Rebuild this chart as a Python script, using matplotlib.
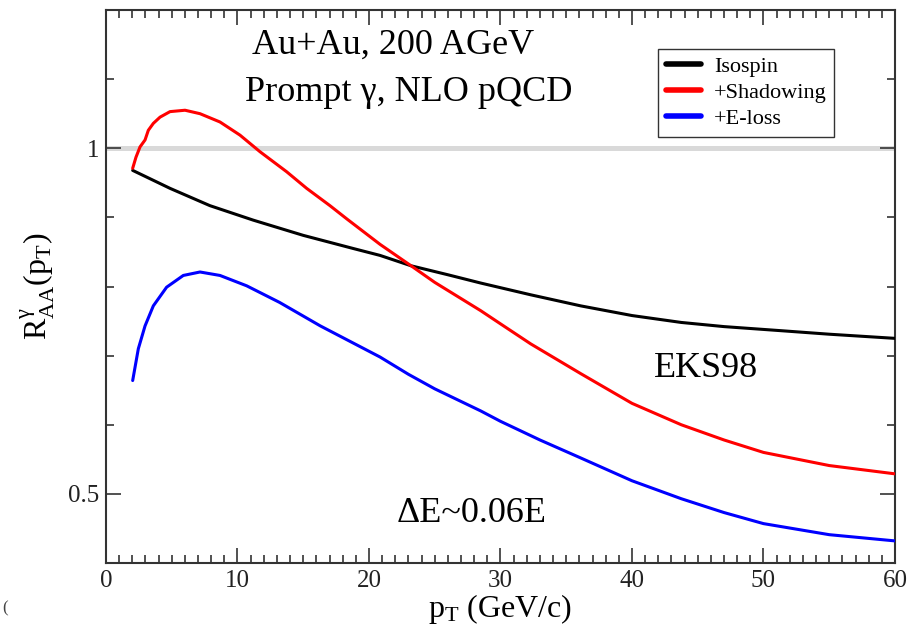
import numpy as np
import matplotlib.pyplot as plt
from matplotlib.ticker import MultipleLocator, FixedLocator

plt.rcParams['font.family'] = ['Liberation Serif', 'DejaVu Serif']
plt.rcParams['mathtext.fontset'] = 'custom'
plt.rcParams['mathtext.rm'] = 'Liberation Serif'
plt.rcParams['mathtext.it'] = 'Liberation Serif:italic'

# R_AA for prompt photons vs pT
pt_iso = [2.03, 4.87, 7.9, 11.2, 15.0, 18.8, 20.84, 23.2, 26, 28.5, 32.3,
          36.1, 40, 43.75, 47, 51.4, 55, 60]
r_iso = [0.968, 0.942, 0.917, 0.896, 0.874, 0.855, 0.845, 0.830, 0.817,
         0.805, 0.788, 0.772, 0.758, 0.748, 0.742, 0.736, 0.731, 0.725]

pt_shad = [2.03, 2.28, 2.59, 2.97, 3.22, 3.60, 4.11, 4.87, 6.01, 7.15, 8.67,
           10.19, 11.71, 13.74, 15.26, 17.03, 18.3, 20.84, 23.2, 25, 28.5,
           30, 32.3, 36.1, 40, 43.75, 47, 50, 55, 60]
r_shad = [0.971, 0.987, 1.002, 1.012, 1.026, 1.036, 1.045, 1.053, 1.055,
          1.050, 1.038, 1.019, 0.995, 0.966, 0.942, 0.917, 0.898, 0.861,
          0.830, 0.806, 0.765, 0.746, 0.717, 0.674, 0.631, 0.600, 0.578,
          0.560, 0.541, 0.529]

pt_eloss = [2.03, 2.46, 2.97, 3.6, 4.61, 5.88, 7.15, 8.67, 10.7, 13.2, 16.3,
            20.84, 23, 25, 28.5, 30, 33, 36.1, 40, 43.75, 47, 50, 55, 60]
r_eloss = [0.664, 0.710, 0.743, 0.772, 0.799, 0.816, 0.821, 0.816, 0.801,
           0.777, 0.743, 0.698, 0.673, 0.652, 0.620, 0.605, 0.578, 0.552,
           0.519, 0.493, 0.473, 0.457, 0.441, 0.432]

fig = plt.figure(figsize=(9.2, 6.29), dpi=100)
ax = fig.add_axes([0.1152, 0.1049, 0.8576, 0.8792])

ax.axhline(1.0, color='#d9d9d9', lw=3.6, zorder=1)
line_kw = dict(lw=2.2, zorder=3, solid_joinstyle='round', solid_capstyle='round')
ax.plot(pt_iso, r_iso, color='black', label='Isospin', **line_kw)
ax.plot(pt_shad, r_shad, color='red', label='+Shadowing', **line_kw)
ax.plot(pt_eloss, r_eloss, color='blue', label='+E-loss', **line_kw)

ax.set_xlim(0, 60)
ax.set_ylim(0.4, 1.2)
ax.xaxis.set_major_locator(MultipleLocator(10))
ax.xaxis.set_minor_locator(MultipleLocator(1))
ax.yaxis.set_major_locator(FixedLocator([0.5, 1.0]))
ax.yaxis.set_minor_locator(MultipleLocator(0.1))
ax.set_yticklabels(['0.5', '1'])

ax.tick_params(which='both', direction='in', top=True, right=True,
               colors='#333333', labelcolor='#222222', labelsize=18)
ax.tick_params(which='major', length=11, width=1.2, pad=5)
ax.tick_params(which='minor', length=6, width=1.2)
for s in ax.spines.values():
    s.set_color('#333333')
    s.set_linewidth(1.5)

ax.set_xlabel(r'$\mathrm{p}_{\mathrm{T}}$ (GeV/c)', fontsize=23, labelpad=0)
ax.set_ylabel(r'$\mathrm{R}^{\mathrm{γ}}_{\mathrm{AA}}(\mathrm{p}_{\mathrm{T}})$',
              fontsize=23, labelpad=8)

ax.text(21.8, 1.149, 'Au+Au, 200 AGeV', fontsize=26, ha='center', va='center')
ax.text(23.0, 1.08, 'Prompt γ, NLO pQCD', fontsize=26, ha='center', va='center')
ax.text(45.6, 0.681, 'EKS98', fontsize=26, ha='center', va='center')
ax.text(27.8, 0.471, 'ΔE~0.06E', fontsize=26, ha='center', va='center')

leg = ax.legend(loc='upper left', bbox_to_anchor=(0.70, 0.93), fontsize=16,
                frameon=True, fancybox=False, edgecolor='black',
                borderaxespad=0, handlelength=1.55, handletextpad=0.6,
                labelspacing=0.25, borderpad=0.35)
leg.get_frame().set_linewidth(1.0)
for h in leg.get_lines():
    h.set_linewidth(4)

fig.text(0.002, 0.027, '(', fontsize=12, color='#444444')

fig.savefig('out.png', dpi=100)
